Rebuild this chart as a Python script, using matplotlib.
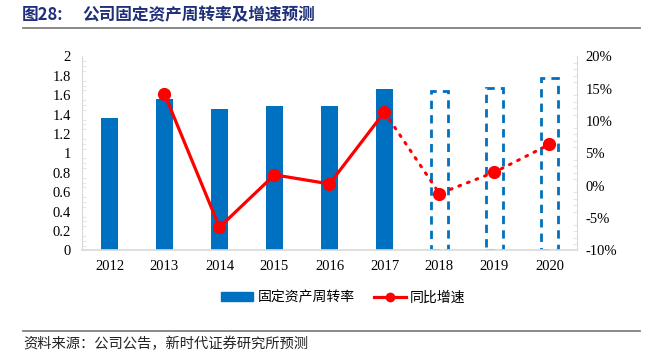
import matplotlib.pyplot as plt
import numpy as np
from matplotlib.lines import Line2D
from matplotlib.patches import Patch

plt.rcParams['font.family'] = ['Liberation Serif', 'Noto Sans CJK SC', 'DejaVu Sans']

years = ["2012", "2013", "2014", "2015", "2016", "2017", "2018", "2019", "2020"]
turnover = [1.37, 1.56, 1.46, 1.49, 1.49, 1.66, 1.64, 1.68, 1.78]
growth = [None, 14.2, -6.4, 1.7, 0.3, 11.4, -1.2, 2.1, 6.4]
n_actual = 6  # 2012-2017 actual, rest forecast

blue = "#0070C0"
red = "#FF0000"
grey = "#D9D9D9"
cjk = ['Noto Sans CJK SC', 'DejaVu Sans']

fig = plt.figure(figsize=(6.52, 3.54), dpi=100)
ax = fig.add_axes([0.1258, 0.2924, 0.759, 0.548])
x = np.arange(len(years))

# bars
ax.bar(x[:n_actual], turnover[:n_actual], width=0.31, color=blue, zorder=2)
ax.bar(x[n_actual:], turnover[n_actual:], width=0.31, fill=False,
       edgecolor=blue, linewidth=2, linestyle=(0, (3, 2.2)), zorder=2)

ax.set_xlim(-0.5, len(years) - 0.5)
ax.set_ylim(0, 2)
ax.set_yticks(np.arange(0, 2.01, 0.2))
ax.set_yticklabels(["0", "0.2", "0.4", "0.6", "0.8", "1", "1.2", "1.4", "1.6", "1.8", "2"])
ax.set_yticks(np.arange(0, 2.01, 0.05), minor=True)
ax.set_xticks(x)
ax.set_xticklabels(years)

# growth line on right axis
ax2 = ax.twinx()
gx = x[1:]
gy = np.array(growth[1:], dtype=float)
ax2.plot(gx[:n_actual - 1], gy[:n_actual - 1], color=red, lw=2.3, zorder=3)
ax2.plot(gx[n_actual - 2:], gy[n_actual - 2:], color=red, lw=2.2,
         linestyle=(0, (0.6, 2.4)), dash_capstyle="round", zorder=3)
ax2.plot(gx, gy, linestyle="none", marker="o", markersize=8.5,
         color=red, zorder=4)
ax2.set_ylim(-10, 20)
ax2.set_yticks(np.arange(-10, 20.1, 5))
ax2.set_yticklabels([f"{int(v)}%" for v in np.arange(-10, 20.1, 5)])
ax2.set_yticks(np.arange(-10, 20.1, 1), minor=True)

for a in (ax, ax2):
    for s in a.spines.values():
        s.set_visible(False)
    a.tick_params(labelsize=10.5, colors="black", length=0)
    a.tick_params(which="minor", direction="in", length=3, color="#E6E6E6", width=0.8)
ax.spines["left"].set_visible(True)
ax.spines["left"].set_color(grey)
ax.spines["bottom"].set_visible(True)
ax.spines["bottom"].set_color(grey)
ax.spines["bottom"].set_linewidth(1.2)
ax2.spines["right"].set_visible(True)
ax2.spines["right"].set_color(grey)
ax.tick_params(axis="y", pad=8)
ax.tick_params(axis="x", pad=7)
ax2.tick_params(axis="y", pad=6)

# legend
handles = [Patch(facecolor=blue, edgecolor=blue),
           Line2D([0], [0], color=red, lw=2.3, marker="o", markersize=6)]
fig.legend(handles, ["固定资产周转率", "同比增速"], loc="center",
           bbox_to_anchor=(0.527, 0.16), ncol=2, frameon=False,
           prop={"family": cjk, "size": 10}, handlelength=2.3,
           handleheight=0.55, columnspacing=1.4, handletextpad=0.3)

# title and source
fig.text(0.034, 0.957, "图28:", fontsize=12, fontweight="bold",
         color="#1F2F7A", va="center", family=cjk)
fig.text(0.127, 0.957, "公司固定资产周转率及增速预测", fontsize=12,
         fontweight="bold", color="#1F2F7A", va="center", family=cjk)
fig.add_artist(Line2D([0.035, 0.982], [0.921, 0.921], color="#808080", lw=1.3))
fig.add_artist(Line2D([0.035, 0.982], [0.066, 0.066], color="#808080", lw=1.3))
fig.text(0.035, 0.029, "资料来源：公司公告，新时代证券研究所预测", fontsize=10.3,
         color="#222222", va="center", family=cjk)

fig.savefig("out.png", dpi=100)
